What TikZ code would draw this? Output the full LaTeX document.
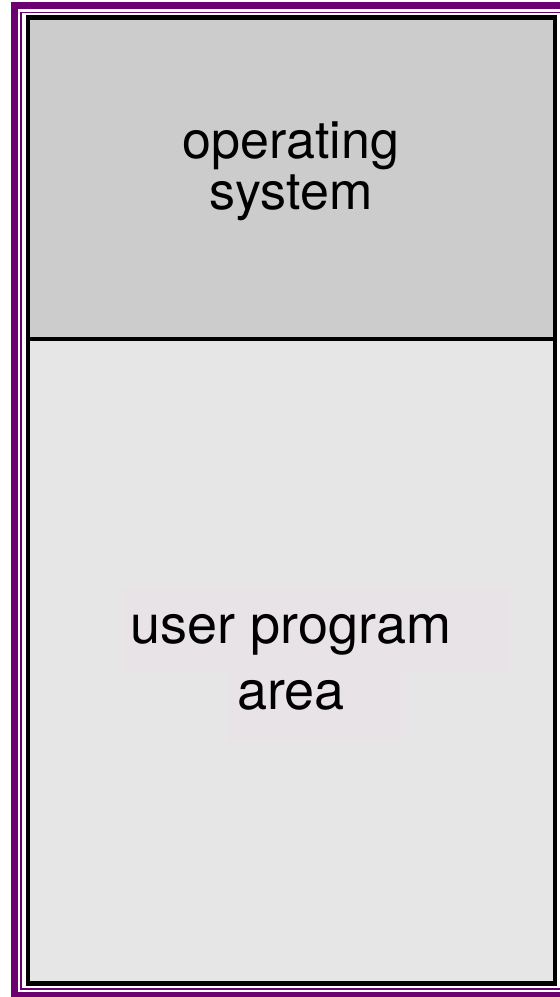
\documentclass[tikz,border=0pt]{standalone}
\usepackage{fontspec}
\setmainfont{TeX Gyre Heros}
\definecolor{framepurple}{RGB}{108,0,112}
\definecolor{osgray}{RGB}{204,204,204}
\definecolor{usergray}{RGB}{230,230,230}
\definecolor{textbg}{RGB}{232,227,230}
\tikzset{
  oslabel/.style={anchor=base,inner sep=0pt,font=\fontsize{52}{52}\selectfont},
  userlabel/.style={anchor=base,inner sep=0pt,font=\fontsize{54}{54}\selectfont}
}
\begin{document}
\begin{tikzpicture}[x=1pt,y=-1pt]
            \useasboundingbox (0,0) rectangle (560,997);
            % Double frame
            \draw[framepurple,line width=7pt] (14.3,5.5) rectangle (576,995.5);
            \draw[framepurple,line width=1.7pt] (20.8,12.5) rectangle (570,989);
            % Memory regions
            \fill[osgray] (28.3,17.5) rectangle (554.8,339);
            \fill[usergray] (28.3,339) rectangle (554.8,983.5);
            \fill[textbg] (122,587) rectangle (510,673);
            \fill[textbg] (227,673) rectangle (407,742);
            \draw[line width=4.3pt] (28.3,17.5) rectangle (554.8,983.5);
            \draw[line width=4.3pt] (28.3,339) -- (554.8,339);
            % Labels
            \node[oslabel] (os) at (291,158) {operating};
            \node[oslabel] (sys) at (291,209) {system};
            \node[userlabel] (user) at (291,643) {user program};
            \node[userlabel] (area) at (291,709) {area};
        \end{tikzpicture}
\end{document}
